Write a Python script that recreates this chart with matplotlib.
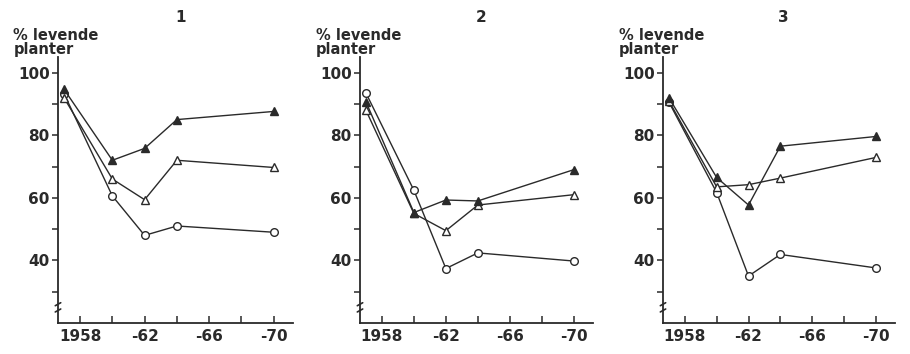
#!/usr/bin/env python3

import numpy as np
import matplotlib
matplotlib.use("Agg")
import matplotlib.pyplot as plt


# ------------------------------------------------------------
# DATA
# ------------------------------------------------------------

years = [1957, 1960, 1962, 1964, 1970]
panel_titles = ["1", "2", "3"]
xtick_years = [1958, 1962, 1966, 1970]
xtick_labels = ["1958", "-62", "-66", "-70"]
ytick_values = [40, 60, 80, 100]

# % levende planter, one list per panel
filled_tri = [
    [94.7, 72.0, 75.8, 85.0, 87.6],
    [90.7, 55.3, 59.3, 59.0, 69.0],
    [92.0, 66.5, 57.7, 76.5, 79.6],
]
open_tri = [
    [92.0, 66.0, 59.4, 72.0, 69.7],
    [88.0, 55.0, 49.5, 57.7, 61.0],
    [91.0, 63.5, 64.2, 66.3, 72.9],
]
circles = [
    [93.3, 60.6, 48.0, 51.0, 49.0],
    [93.5, 62.4, 37.4, 42.4, 39.8],
    [90.6, 61.7, 35.0, 41.9, 37.6],
]


# ------------------------------------------------------------
# PLOT
# ------------------------------------------------------------

INK = "#2a2a2a"
plt.rcParams["font.family"] = ["DejaVu Sans"]
plt.rcParams["font.weight"] = "bold"

fig = plt.figure(figsize=(9.10, 3.54), dpi=100)

# axes positions in figure pixels: (left, right)
spans = [(58, 293), (360, 593), (663, 895)]
W, H = 910.0, 354.0
bottom_px, top_px = 323, 57

for i, (l, r) in enumerate(spans):
    ax = fig.add_axes([l / W, 1 - bottom_px / H, (r - l) / W, (bottom_px - top_px) / H])

    ax.plot(years, circles[i], "-o", color=INK, lw=1.0, ms=5.5,
            mfc="white", mec=INK, mew=1.0, zorder=3)
    ax.plot(years, open_tri[i], "-^", color=INK, lw=1.0, ms=6,
            mfc="white", mec=INK, mew=1.0, zorder=3)
    ax.plot(years, filled_tri[i], "-^", color=INK, lw=1.0, ms=6,
            mfc=INK, mec=INK, mew=1.0, zorder=4)

    ax.set_xlim(1956.63, 1971.2)
    ax.set_ylim(20, 105)

    for side in ("top", "right"):
        ax.spines[side].set_visible(False)
    for side in ("left", "bottom"):
        ax.spines[side].set_color(INK)
        ax.spines[side].set_linewidth(1.3)

    ax.set_xticks(xtick_years)
    ax.set_xticklabels(xtick_labels)
    ax.set_xticks(np.arange(1958, 1971, 2), minor=True)
    ax.tick_params(axis="x", which="both", direction="in", length=5,
                   width=1.1, color=INK, labelsize=11, labelcolor=INK, pad=4)

    ax.set_yticks(ytick_values)
    ax.set_yticks([30, 50, 70, 90], minor=True)
    ax.tick_params(axis="y", which="both", direction="out", length=4,
                   width=1.1, color=INK, labelsize=11, labelcolor=INK, pad=2)

    # axis break marks on the y spine
    for yb in (24.0, 26.0):
        ax.annotate("", xy=(0.022, yb + 0.9), xytext=(-0.022, yb - 0.9),
                    xycoords=("axes fraction", "data"),
                    textcoords=("axes fraction", "data"),
                    arrowprops=dict(arrowstyle="-", color=INK, lw=1.2),
                    annotation_clip=False)

    ax.text(-0.19, 1.0, "% levende\nplanter", transform=ax.transAxes,
            ha="left", va="bottom", fontsize=10.5, color=INK,
            linespacing=0.95)
    ax.text(0.52, 1.12, panel_titles[i], transform=ax.transAxes,
            ha="center", va="bottom", fontsize=11, color=INK)

fig.savefig("out.png", dpi=100, facecolor="white")
plt.close(fig)
